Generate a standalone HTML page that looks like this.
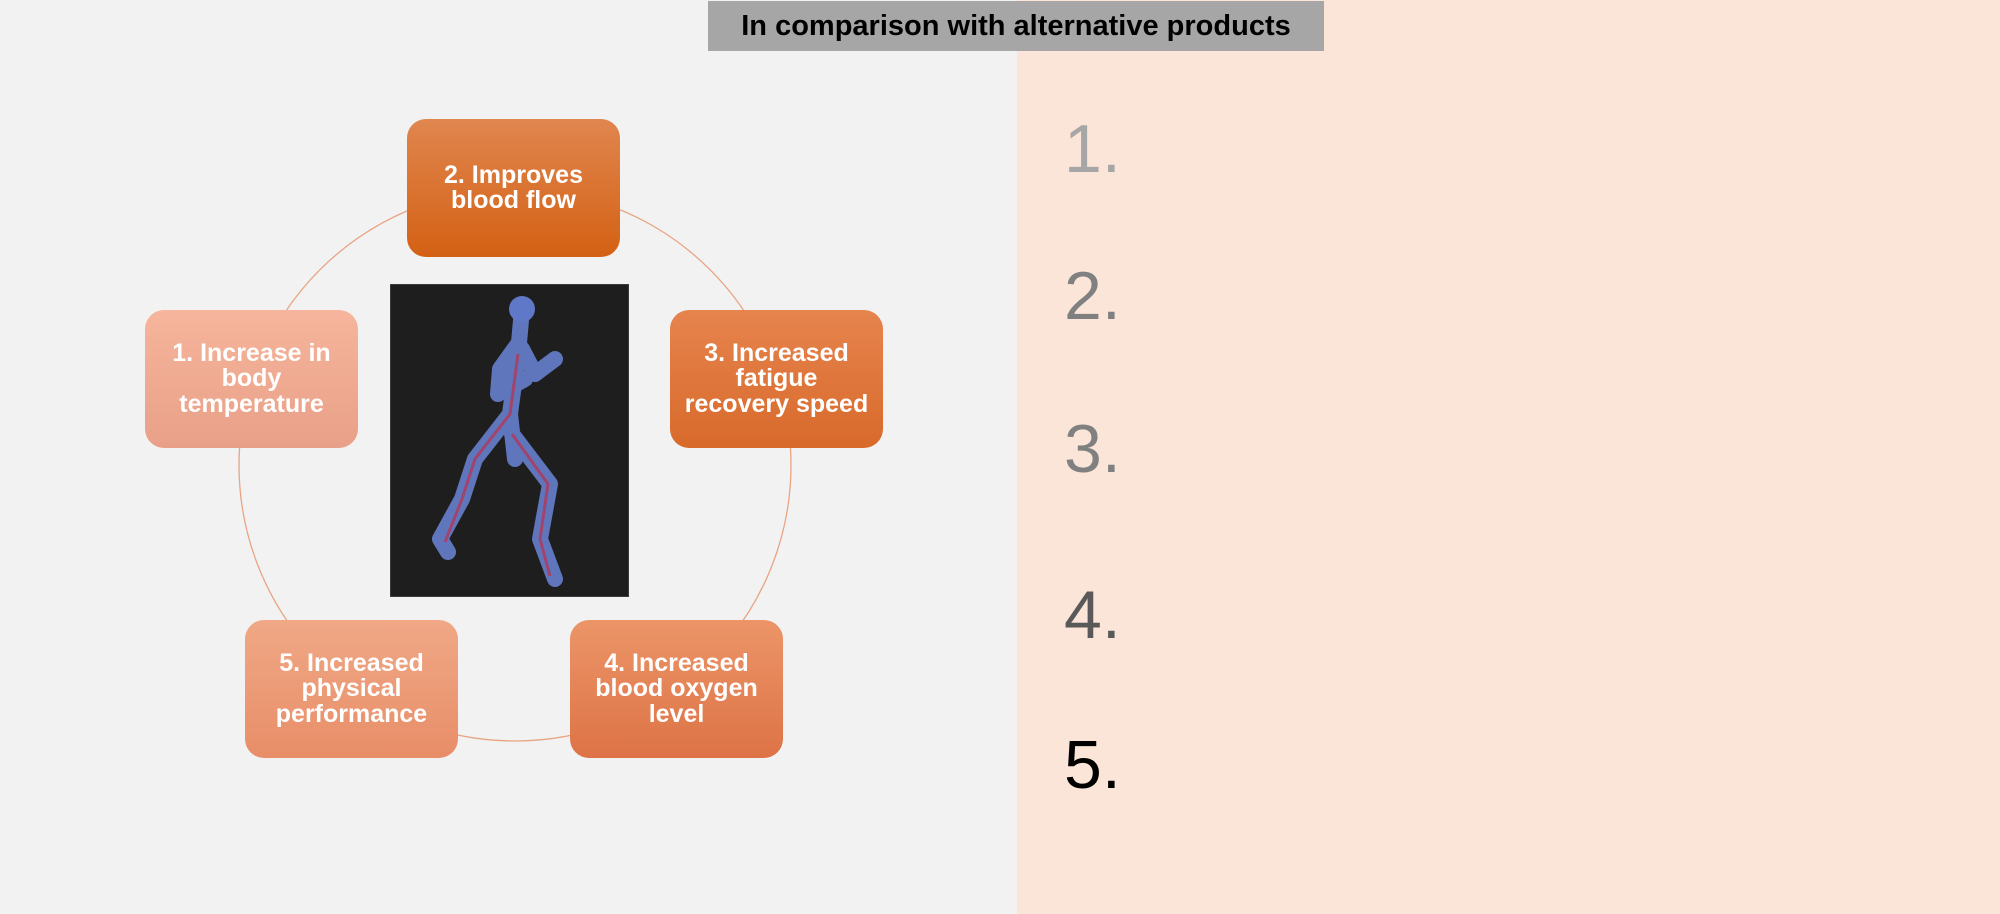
<!DOCTYPE html>
<html><head><meta charset="utf-8"><style>
body{margin:0;width:2000px;height:914px;background:#F2F2F2;position:relative;overflow:hidden;font-family:"Liberation Sans",Arial,sans-serif}
.right{position:absolute;left:1017px;top:0;width:983px;height:914px;background:#FAE5D8}
.title{position:absolute;left:708px;top:1px;width:616px;height:50px;background:#A6A6A6;color:#000;font-weight:bold;font-size:29px;line-height:50px;text-align:center}
.box{position:absolute;width:213px;height:138px;border-radius:19px;color:#fff;font-weight:bold;font-size:25px;line-height:25.5px;display:flex;align-items:center;justify-content:center;text-align:center}
.num{position:absolute;left:1064px;font-size:68px;line-height:68px;font-family:"Liberation Sans",Arial,sans-serif}
</style></head><body>
<div class="right"></div>
<div class="title">In comparison with alternative products</div>
<svg style="position:absolute;left:0;top:0" width="1017" height="914">
<circle cx="515" cy="465" r="276" fill="none" stroke="#E9A484" stroke-width="1.3"/>
</svg>
<div class="box" style="left:407px;top:119px;background:linear-gradient(#E0864F,#D46114)">2. Improves<br>blood flow</div>
<div class="box" style="left:145px;top:310px;background:linear-gradient(#F6B59C,#E9A088)">1. Increase in<br>body<br>temperature</div>
<div class="box" style="left:670px;top:310px;background:linear-gradient(#E6844E,#D86A2B)">3. Increased<br>fatigue<br>recovery speed</div>
<div class="box" style="left:245px;top:620px;background:linear-gradient(#F0A886,#E88E68)">5. Increased<br>physical<br>performance</div>
<div class="box" style="left:570px;top:620px;background:linear-gradient(#EC9568,#DD7346)">4. Increased<br>blood oxygen<br>level</div>
<svg style="position:absolute;left:390px;top:284px" width="239" height="313" viewBox="0 0 239 313">
<rect x="0" y="0" width="239" height="313" fill="#1E1E1E" stroke="#555"/>
<g fill="none" stroke="#6C86D8" stroke-width="16" stroke-linecap="round" stroke-linejoin="round" opacity="0.85">
<path d="M132 25 L128 70 L120 130 L125 175"/>
<path d="M120 130 L85 175 L72 215 L50 255 L58 268"/>
<path d="M122 150 L160 200 L150 255 L165 295"/>
<path d="M128 60 L110 85 L108 110 L135 95"/>
<path d="M132 65 L145 90 L165 75"/>
</g>
<circle cx="132" cy="25" r="13" fill="#5F78C8"/>
<g fill="none" stroke="#B0385A" stroke-width="3" opacity="0.8">
<path d="M128 70 L120 130 L85 175 L72 215 L55 258"/>
<path d="M122 150 L158 200 L150 255 L160 292"/>
</g>
</svg>
<div class="num" style="top:115px;color:#A6A6A6">1.</div>
<div class="num" style="top:262px;color:#808080">2.</div>
<div class="num" style="top:415px;color:#808080">3.</div>
<div class="num" style="top:581px;color:#595959">4.</div>
<div class="num" style="top:731px;color:#000">5.</div>
</body></html>
